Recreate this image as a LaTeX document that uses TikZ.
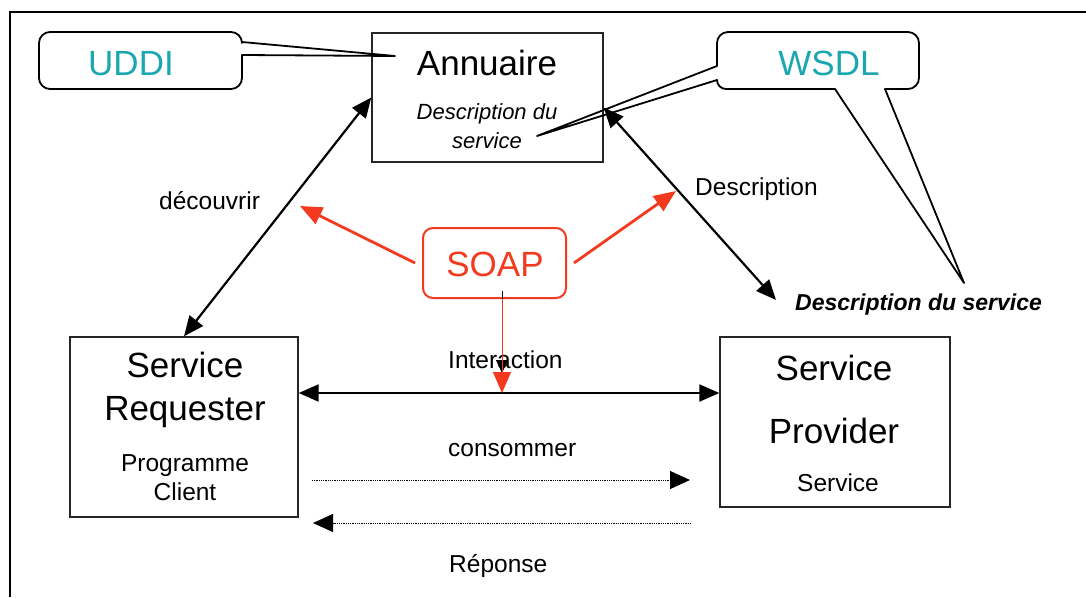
\documentclass[tikz,border=0pt]{standalone}
\usepackage{fontspec}
\setmainfont{Liberation Sans}
\usetikzlibrary{arrows.meta,calc}
\definecolor{wsteal}{HTML}{1AA7B0}
\definecolor{soapred}{HTML}{F43A1E}

\tikzset{
  big/.style={font=\fontsize{35}{40}\selectfont, inner sep=0pt, anchor=base},
  mid/.style={font=\fontsize{24.5}{29}\selectfont, inner sep=0pt, anchor=base},
  lbl/.style={font=\fontsize{24.5}{29}\selectfont, inner sep=0pt, anchor=base west},
  box/.style={draw=black!85, line width=1.4pt, inner sep=0pt},
  callout/.style={draw=black, line width=1.8pt, line cap=round, line join=round},
  biarrow/.style={line width=2.2pt,
    {Triangle[length=20pt,width=17pt]}-{Triangle[length=20pt,width=17pt]}},
  soaparrow/.style={draw=soapred, line width=2.8pt, -{Triangle[length=22pt,width=18pt]}},
  msgarrow/.style={line width=0.9pt, dash pattern=on 1pt off 0.8pt,
    -{Triangle[length=20pt,width=18pt]}},
}

\begin{document}
\begin{tikzpicture}[x=1pt,y=-1pt]
\useasboundingbox (0,0) rectangle (1086,597);

% outer frame
\draw[line width=2.6pt] (10,597) -- (10,12) -- (1086,12);

% main boxes
\node[box, minimum width=231pt, minimum height=129pt] (ann) at (487.5,97.5) {};
\node[box, minimum width=228pt, minimum height=180pt] (req) at (184,427) {};
\node[box, minimum width=230pt, minimum height=170pt] (prov) at (835,422) {};
\node[draw=soapred, line width=2pt, rounded corners=10pt, inner sep=0pt,
      minimum width=143pt, minimum height=70pt] (soap) at (494.5,263) {};

% box texts
\node[big] (tann) at (487,75) {Annuaire};
\node[mid, font=\fontsize{22}{26}\selectfont\itshape] (tdesc1) at (487,119) {Description du};
\node[mid, font=\fontsize{22}{26}\selectfont\itshape] (tdesc2) at (487,148) {service};
\node[big] (treq1) at (185,377) {Service};
\node[big] (treq2) at (185,420) {Requester};
\node[mid] (treq3) at (185,471) {Programme};
\node[mid] (treq4) at (185,500) {Client};
\node[big] (tprov1) at (834,380) {Service};
\node[big] (tprov2) at (834,443) {Provider};
\node[mid] (tprov3) at (838,491) {Service};
\node[big, text=soapred] (tsoap) at (495,276) {SOAP};

% callouts
\coordinate (uddiTip) at (395,56);
\coordinate (wsdlTipA) at (537,136);
\coordinate (wsdlTipB) at (964,283);
\draw[callout, rounded corners=11pt] (242,42) -- (242,32) -- (39,32) -- (39,89) -- (242,89) -- (242,55);
\draw[callout] (242,42) -- (uddiTip) -- (242,55);
\node[big, text=wsteal] (tuddi) at (131,75) {UDDI};

\draw[callout, rounded corners=9pt] (717,80) -- (717,89) -- (835,89);
\draw[callout, rounded corners=11pt] (885,89) -- (919,89) -- (919,32) -- (717,32) -- (717,66);
\draw[callout] (717,66) -- (wsdlTipA) -- (717,80);
\draw[callout] (835,89) -- (wsdlTipB) -- (885,89);
\node[big, text=wsteal] (twsdl) at (829,75) {WSDL};

% labels
\node[lbl] (tdecouv) at (159,209) {découvrir};
\node[lbl] (tdescr) at (695,195) {Description};
\node[lbl, font=\fontsize{23}{27}\selectfont\bfseries\itshape] (tdsv) at (795,310) {Description du service};
\node[lbl] (tinter) at (448,368) {Interaction};
\node[lbl] (tcons) at (448,456) {consommer};
\node[lbl] (trep) at (449,572) {Réponse};

% connectors between the actors
\coordinate (dtip) at (776,300);
\draw[biarrow] (req.north) -- (ann.west);
\draw[biarrow] ([yshift=-10pt]ann.east) -- (dtip);

\coordinate (iy) at (502,393);
\draw[biarrow] (req.east |- iy) -- (prov.west |- iy);

\coordinate (consL) at (312,480);
\coordinate (consR) at (690,480);
\coordinate (repL) at (313,523);
\coordinate (repR) at (691,523);
\draw[msgarrow] (consL) -- (consR);
\draw[msgarrow] (repR) -- (repL);

% SOAP arrows
\coordinate (soapL) at (300,206);
\coordinate (soapR) at (676,191);
\draw[soaparrow] ([xshift=-7pt]soap.west) -- (soapL);
\draw[soaparrow] ([xshift=7pt]soap.east) -- (soapR);
\draw[line width=1pt, -{Triangle[length=13pt,width=12pt]}] (502,291) -- (502,373);
\draw[draw=soapred, line width=1pt, -{Triangle[length=21pt,width=18pt]}] (soap.south -| iy) -- (iy);
\end{tikzpicture}
\end{document}
